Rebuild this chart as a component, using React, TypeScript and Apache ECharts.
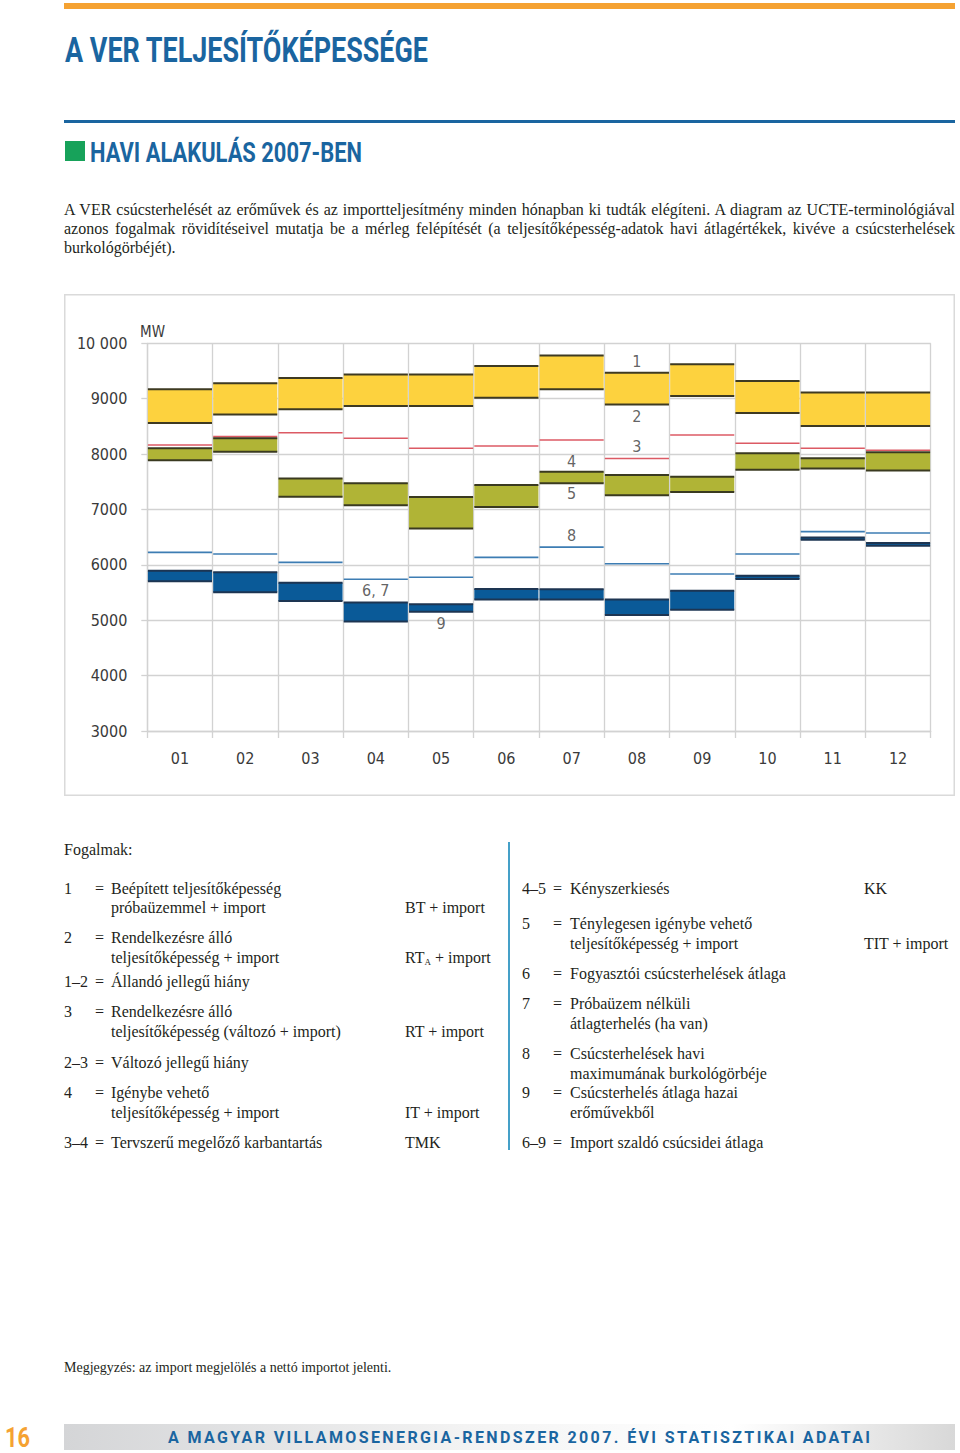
import React, { useEffect, useRef } from "react";
import * as echarts from "echarts";

// ---------- data ----------
const months = ["01", "02", "03", "04", "05", "06", "07", "08", "09", "10", "11", "12"];
// 1 = BT + import (top of yellow band)
const btImport = [9170, 9280, 9375, 9435, 9435, 9590, 9780, 9470, 9620, 9320, 9110, 9110];
// 2 = RTA + import (bottom of yellow band)
const rtaImport = [8560, 8715, 8810, 8870, 8870, 9015, 9170, 8895, 9050, 8740, 8505, 8505];
// 3 = RT + import (red line)
const rtImport = [8165, 8315, 8385, 8285, 8105, 8145, 8255, 7920, 8345, 8195, 8105, 8070];
// 4 = IT + import (top of green band)
const itImport = [8105, 8285, 7560, 7475, 7225, 7440, 7680, 7620, 7590, 8015, 7925, 8035];
// 5 = TIT + import (bottom of green band)
const titImport = [7890, 8040, 7230, 7075, 6655, 7045, 7475, 7255, 7315, 7715, 7740, 7705];
// 8 = monthly peak envelope (thin blue line)
const peakEnvelope = [6225, 6195, 6045, 5740, 5775, 6135, 6320, 6020, 5835, 6195, 6600, 6575];
// 6, 7 = consumer peak average (top of dark blue band)
const peakAverage = [5895, 5865, 5675, 5320, 5290, 5565, 5560, 5375, 5530, 5805, 6495, 6395];
// 9 = peak average from domestic plants (bottom of dark blue band)
const domesticAverage = [5705, 5505, 5345, 4975, 5155, 5375, 5375, 5095, 5190, 5745, 6455, 6345];

const yTickValues = [3000, 4000, 5000, 6000, 7000, 8000, 9000, 10000];
const yTickLabels = ["3000", "4000", "5000", "6000", "7000", "8000", "9000", "10 000"];

const annotationLabels = ["1", "2", "3", "4", "5", "8", "6, 7", "9"];
const annotationMonths = ["08", "08", "08", "07", "07", "07", "04", "05"];
const annotationValues = [9663, 8671, 8131, 7860, 7283, 6526, 5534, 4939];

// ---------- styles ----------
const NARROW = "'Liberation Sans Narrow', 'DejaVu Sans Condensed', 'Roboto Condensed', Roboto, sans-serif";
const SERIF = "'Liberation Serif', 'DejaVu Serif', serif";
const BLUE = "#1a65a0";
const ORANGE = "#f5a232";
const GRID = "#d2d2d2";
const LABEL = "#3a3a3a";

function bandRenderer(fill: string, edge: string, edgeWidth: number) {
  return (params: any, api: any) => {
    const i = api.value(0);
    const top = api.coord([i, api.value(1)]);
    const bot = api.coord([i, api.value(2)]);
    const w = api.size([1, 0])[0];
    const x0 = top[0] - w / 2 + 0.6;
    const x1 = top[0] + w / 2 - 0.6;
    return {
      type: "group",
      children: [
        { type: "rect", shape: { x: x0, y: top[1], width: x1 - x0, height: bot[1] - top[1] }, style: { fill } },
        { type: "line", shape: { x1: x0, y1: top[1], x2: x1, y2: top[1] }, style: { stroke: edge, lineWidth: edgeWidth } },
        { type: "line", shape: { x1: x0, y1: bot[1], x2: x1, y2: bot[1] }, style: { stroke: edge, lineWidth: edgeWidth } },
      ],
    };
  };
}

function lineRenderer(color: string, width: number) {
  return (params: any, api: any) => {
    const i = api.value(0);
    const p = api.coord([i, api.value(1)]);
    const w = api.size([1, 0])[0];
    return {
      type: "line",
      shape: { x1: p[0] - w / 2 + 0.6, y1: p[1], x2: p[0] + w / 2 - 0.6, y2: p[1] },
      style: { stroke: color, lineWidth: width },
    };
  };
}

function Chart() {
  const ref = useRef<HTMLDivElement>(null);
  useEffect(() => {
    if (!ref.current) return;
    const chart = echarts.init(ref.current, null, { renderer: "svg" });
    const band = (hi: number[], lo: number[]) => months.map((_, i) => [i, hi[i], lo[i]]);
    const single = (v: number[]) => months.map((_, i) => [i, v[i]]);
    chart.setOption({
      animation: false,
      grid: { left: 83.3, right: 24.3, top: 49.3, bottom: 65 },
      graphic: [
        {
          type: "rect",
          shape: { x: 0.75, y: 0.75, width: 889.5, height: 500.5 },
          style: { fill: "none", stroke: "#dadada", lineWidth: 1.5 },
        },
        {
          type: "text",
          x: 76,
          y: 38,
          style: {
            text: "MW",
            fontSize: 15,
            fontFamily: NARROW,
            fill: LABEL,
            align: "left",
            verticalAlign: "middle",
            textAlign: "left",
            textVerticalAlign: "middle",
          },
        },
      ],
      xAxis: {
        type: "category",
        data: months,
        boundaryGap: true,
        axisLine: { show: true, lineStyle: { color: GRID, width: 1.3 } },
        axisTick: { show: true, interval: 0, length: 7, lineStyle: { color: GRID, width: 1.3 } },
        splitLine: { show: true, interval: 0, lineStyle: { color: GRID, width: 1.3 } },
        axisLabel: { color: LABEL, fontSize: 16, fontFamily: NARROW, margin: 19, interval: 0 },
      },
      yAxis: {
        type: "value",
        min: 3000,
        max: 10000,
        interval: 1000,
        axisLine: { show: true, lineStyle: { color: GRID, width: 1.3 } },
        axisTick: { show: true, length: 6, lineStyle: { color: GRID, width: 1.3 } },
        splitLine: { show: true, lineStyle: { color: GRID, width: 1.3 } },
        axisLabel: {
          color: LABEL,
          fontSize: 16,
          fontFamily: NARROW,
          margin: 20,
          formatter: (v: number) => {
            const k = yTickValues.indexOf(v);
            return k >= 0 ? yTickLabels[k] : "";
          },
        },
      },
      series: [
        {
          type: "custom",
          name: "1–2 Állandó jellegű hiány",
          renderItem: bandRenderer("#fdd23e", "#3e3a22", 2),
          encode: { x: 0, y: [1, 2] },
          data: band(btImport, rtaImport),
          z: 3,
        },
        {
          type: "custom",
          name: "3 RT + import",
          renderItem: lineRenderer("#dc5a64", 1.6),
          encode: { x: 0, y: 1 },
          data: single(rtImport),
          z: 3,
        },
        {
          type: "custom",
          name: "4–5 KK",
          renderItem: bandRenderer("#b0b436", "#3a3a20", 2),
          encode: { x: 0, y: [1, 2] },
          data: band(itImport, titImport),
          z: 4,
        },
        {
          type: "custom",
          name: "8 burkológörbe",
          renderItem: lineRenderer("#3d7db3", 1.6),
          encode: { x: 0, y: 1 },
          data: single(peakEnvelope),
          z: 3,
        },
        {
          type: "custom",
          name: "6–9 Import szaldó",
          renderItem: bandRenderer("#0a5a98", "#1d3552", 2),
          encode: { x: 0, y: [1, 2] },
          data: band(peakAverage, domesticAverage),
          z: 3,
        },
        {
          type: "scatter",
          name: "jelölések",
          symbolSize: 0,
          silent: true,
          data: annotationLabels.map((t, i) => ({ name: t, value: [annotationMonths[i], annotationValues[i]] })),
          label: {
            show: true,
            position: "inside",
            formatter: "{b}",
            color: LABEL,
            fontSize: 16,
            fontFamily: NARROW,
          },
          z: 5,
        },
      ],
    });
    return () => chart.dispose();
  }, []);
  return <div ref={ref} style={{ position: "absolute", left: 64, top: 294, width: 891, height: 502 }} />;
}

type Line = { text: React.ReactNode; base: number; x: number };

function TextLine({ text, base, x }: Line) {
  return (
    <div
      style={{
        position: "absolute",
        left: x,
        top: base - 15,
        lineHeight: "19px",
        fontSize: 16,
        fontFamily: SERIF,
        color: "#231f20",
        whiteSpace: "nowrap",
      }}
    >
      {text}
    </div>
  );
}

const leftCol: { num: string; lines: string[]; abbr?: React.ReactNode; bases: number[] }[] = [
  { num: "1", lines: ["Beépített teljesítőképesség", "próbaüzemmel + import"], abbr: "BT + import", bases: [894, 913] },
  { num: "2", lines: ["Rendelkezésre álló", "teljesítőképesség + import"], abbr: (<span>RT<sub style={{ fontSize: 9, verticalAlign: "-2px" }}>A</sub> + import</span>), bases: [943, 963] },
  { num: "1–2", lines: ["Állandó jellegű hiány"], bases: [987] },
  { num: "3", lines: ["Rendelkezésre álló", "teljesítőképesség (változó + import)"], abbr: "RT + import", bases: [1017, 1037] },
  { num: "2–3", lines: ["Változó jellegű hiány"], bases: [1068] },
  { num: "4", lines: ["Igénybe vehető", "teljesítőképesség + import"], abbr: "IT + import", bases: [1098, 1118] },
  { num: "3–4", lines: ["Tervszerű megelőző karbantartás"], abbr: "TMK", bases: [1148] },
];

const rightCol: { num: string; lines: string[]; abbr?: string; abbrLine?: number; bases: number[] }[] = [
  { num: "4–5", lines: ["Kényszerkiesés"], abbr: "KK", abbrLine: 0, bases: [894] },
  { num: "5", lines: ["Ténylegesen igénybe vehető", "teljesítőképesség + import"], abbr: "TIT + import", abbrLine: 1, bases: [929, 949] },
  { num: "6", lines: ["Fogyasztói csúcsterhelések átlaga"], bases: [979] },
  { num: "7", lines: ["Próbaüzem nélküli", "átlagterhelés (ha van)"], bases: [1009, 1029] },
  { num: "8", lines: ["Csúcsterhelések havi", "maximumának burkológörbéje"], bases: [1059, 1079] },
  { num: "9", lines: ["Csúcsterhelés átlaga hazai", "erőművekből"], bases: [1098, 1118] },
  { num: "6–9", lines: ["Import szaldó csúcsidei átlaga"], bases: [1148] },
];

export default function App() {
  return (
    <div style={{ position: "absolute", left: 0, top: 0, width: 960, height: 1453, background: "#fff", overflow: "hidden" }}>
      <svg width={960} height={1453} style={{ position: "absolute", left: 0, top: 0 }}>
        <defs>
          <linearGradient id="footGrad" x1="0" y1="0" x2="1" y2="0">
            <stop offset="0" stopColor="#d4d5d7" />
            <stop offset="0.45" stopColor="#f3f3f3" />
            <stop offset="0.75" stopColor="#ffffff" />
            <stop offset="1" stopColor="#d8d8d8" />
          </linearGradient>
        </defs>
        <rect x={64} y={3} width={891} height={6} fill={ORANGE} />
        <text x={65} y={62} fontSize={35} fontWeight={700} fontFamily="Roboto, 'DejaVu Sans', sans-serif" fill={BLUE} textLength={363} lengthAdjust="spacingAndGlyphs">
          A VER TELJESÍTŐKÉPESSÉGE
        </text>
        <rect x={64} y={120} width={891} height={3} fill={BLUE} />
        <rect x={65} y={141} width={20} height={20} fill="#17a25a" />
        <text x={90} y={162} fontSize={28} fontWeight={700} fontFamily="Roboto, 'DejaVu Sans', sans-serif" fill={BLUE} textLength={272} lengthAdjust="spacingAndGlyphs">
          HAVI ALAKULÁS 2007-BEN
        </text>
        <rect x={508} y={842} width={2} height={308} fill="#45a0c8" />
        <rect x={64} y={1424} width={891} height={26} fill="url(#footGrad)" />
        <text x={168} y={1443} fontSize={16} fontWeight={700} fontFamily="Roboto, 'DejaVu Sans', sans-serif" fill={BLUE} textLength={702} lengthAdjust="spacing">
          A MAGYAR VILLAMOSENERGIA-RENDSZER 2007. ÉVI STATISZTIKAI ADATAI
        </text>
        <text x={5} y={1447} fontSize={27} fontWeight={700} fontFamily="Roboto, 'DejaVu Sans', sans-serif" fill={ORANGE} textLength={25} lengthAdjust="spacingAndGlyphs">
          16
        </text>
      </svg>

      <div
        style={{
          position: "absolute",
          left: 64,
          top: 199.5,
          width: 891,
          fontSize: 16,
          lineHeight: "19.3px",
          fontFamily: SERIF,
          color: "#231f20",
          textAlign: "justify",
        }}
      >
        A VER csúcsterhelését az erőművek és az importteljesítmény minden hónapban ki tudták elégíteni. A diagram az
        UCTE-terminológiával azonos fogalmak rövidítéseivel mutatja be a mérleg felépítését (a teljesítőképesség-adatok
        havi átlagértékek, kivéve a csúcsterhelések burkológörbéjét).
      </div>

      <Chart />

      <TextLine text="Fogalmak:" base={855} x={64} />

      {leftCol.map((e, k) => (
        <React.Fragment key={"l" + k}>
          <TextLine text={e.num} base={e.bases[0]} x={64} />
          <TextLine text="=" base={e.bases[0]} x={95} />
          {e.lines.map((t, j) => (
            <TextLine key={j} text={t} base={e.bases[j]} x={111} />
          ))}
          {e.abbr ? <TextLine text={e.abbr} base={e.bases[e.bases.length - 1]} x={405} /> : null}
        </React.Fragment>
      ))}

      {rightCol.map((e, k) => (
        <React.Fragment key={"r" + k}>
          <TextLine text={e.num} base={e.bases[0]} x={522} />
          <TextLine text="=" base={e.bases[0]} x={553} />
          {e.lines.map((t, j) => (
            <TextLine key={j} text={t} base={e.bases[j]} x={570} />
          ))}
          {e.abbr ? <TextLine text={e.abbr} base={e.bases[e.abbrLine || 0]} x={864} /> : null}
        </React.Fragment>
      ))}

      <div
        style={{
          position: "absolute",
          left: 64,
          top: 1359.5,
          fontSize: 14,
          lineHeight: "16px",
          fontFamily: SERIF,
          color: "#231f20",
          whiteSpace: "nowrap",
        }}
      >
        Megjegyzés: az import megjelölés a nettó importot jelenti.
      </div>
    </div>
  );
}
